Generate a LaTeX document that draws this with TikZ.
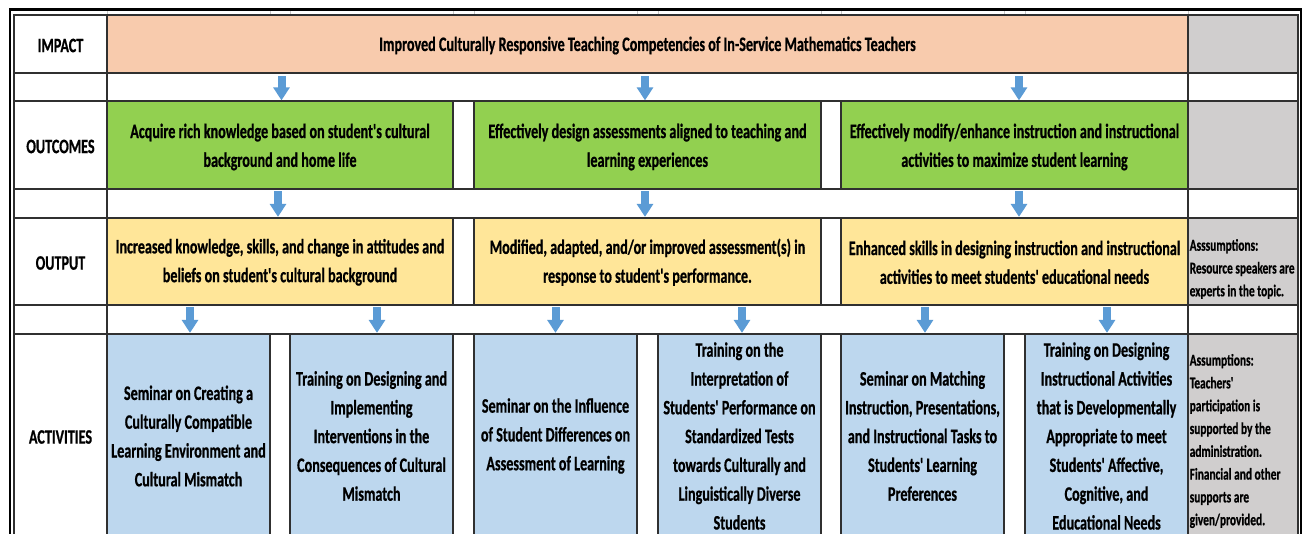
\documentclass[tikz,border=0pt]{standalone}
\usepackage{fontspec}
\newfontfamily\carl{Carlito}[FakeStretch=0.69, BoldFeatures={FakeBold=0.7}]
\usetikzlibrary{arrows.meta}

\definecolor{peach}{HTML}{F8CBAD}
\definecolor{leaf}{HTML}{92D050}
\definecolor{sand}{HTML}{FFE699}
\definecolor{sky}{HTML}{BDD7EE}
\definecolor{stone}{HTML}{D0CECE}
\definecolor{arrowblue}{HTML}{5B9BD5}
\definecolor{gridline}{HTML}{303030}
\definecolor{faintgrid}{HTML}{C8C8C8}

\tikzset{
  cell/.style={draw=gridline, line width=1.3pt, inner sep=0pt, align=center,
    font=\carl\bfseries\fontsize{20.5}{28.8}\selectfont},
  celltext/.style={inner sep=0pt, align=center,
    font=\carl\bfseries\fontsize{20.5}{28.8}\selectfont},
  spacer/.style={draw=gridline, line width=1.3pt, inner sep=0pt, fill=white},
  note/.style={inner sep=0pt, align=left, anchor=west,
    font=\carl\bfseries\fontsize{16.5}{22.8}\selectfont},
  blockarrow/.style={draw=arrowblue, line width=8pt,
    -{Triangle[width=16pt,length=13pt]}},
  frame/.style={draw=black, line width=2.4pt},
  lightgrid/.style={draw=faintgrid, line width=1pt},
}

\begin{document}
\begin{tikzpicture}[x=1pt,y=-1pt]
\useasboundingbox (0,0) rectangle (1306,534);
\clip (0,0) rectangle (1306,534);
\fill[white] (0,0) rectangle (1306,534);

% thin spreadsheet gridlines in the strip above the first row
\foreach \x in {107,270,290,453,474,637,658,821,841,1004,1025,1188}
  \draw[lightgrid] (\x,11) -- (\x,15);
\draw[gridline, line width=1.2pt] (14,600) |- (1298,14.5) -- (1298,600);

% spacer rows holding the arrows
\node[spacer, minimum width=93pt,   minimum height=28pt] (s1l) at (60.5,87) {};
\node[spacer, minimum width=1081pt, minimum height=28pt] (s1m) at (647.5,87) {};
\node[spacer, minimum width=110pt,  minimum height=28pt] (s1r) at (1243,87) {};
\node[spacer, minimum width=93pt,   minimum height=29pt] (s2l) at (60.5,203.5) {};
\node[spacer, minimum width=1081pt, minimum height=29pt] (s2m) at (647.5,203.5) {};
\node[spacer, minimum width=110pt,  minimum height=29pt] (s2r) at (1243,203.5) {};
\node[spacer, minimum width=93pt,   minimum height=29pt] (s3l) at (60.5,319.5) {};
\node[spacer, minimum width=1081pt, minimum height=29pt] (s3m) at (647.5,319.5) {};
\node[spacer, minimum width=110pt,  minimum height=29pt] (s3r) at (1243,319.5) {};

% row labels
\node[cell, minimum width=93pt, minimum height=58pt]  (lImpact)   at (60.5,44)    {};
\node[cell, minimum width=93pt, minimum height=88pt]  (lOutcomes) at (60.5,145)   {};
\node[cell, minimum width=93pt, minimum height=87pt]  (lOutput)   at (60.5,261.5) {};
\node[cell, minimum width=93pt, minimum height=204pt] (lActs)     at (60.5,436)   {};
\node[celltext] (lImpactT)   at ([yshift=-1.5pt]lImpact.center)   {IMPACT};
\node[celltext] (lOutcomesT) at ([yshift=-1.5pt]lOutcomes.center) {OUTCOMES};
\node[celltext] (lOutputT)   at ([yshift=-1.5pt]lOutput.center)   {OUTPUT};
\node[celltext] (lActsT)     at ([yshift=-1pt]lActs.center)       {ACTIVITIES};

% assumptions column
\node[cell, fill=stone, minimum width=110pt, minimum height=58pt]  (rImpact)   at (1243,44) {};
\node[cell, fill=stone, minimum width=110pt, minimum height=88pt]  (rOutcomes) at (1243,145) {};
\node[cell, fill=stone, minimum width=110pt, minimum height=87pt]  (rOutput)   at (1243,261.5) {};
\node[cell, fill=stone, minimum width=110pt, minimum height=204pt] (rActs)     at (1243,436) {};
\node[note] (nOutput) at (1189.5,269) {Asssumptions:\\Resource speakers are\\experts in the topic.};
\node[note] (nActs) at (1189.5,441) {Assumptions:\\Teachers'\\participation is\\supported by the\\administration.\\Financial and other\\supports are\\given/provided.};

% impact
\node[cell, fill=peach, minimum width=1081pt, minimum height=58pt] (impact) at (647.5,44) {};
\node[celltext] (impactT) at ([yshift=-1.5pt]impact.center)
  {Improved Culturally Responsive Teaching Competencies of In-Service Mathematics Teachers};

% outcomes (two-line texts sit a little below the box centre)
\node[cell, fill=leaf, minimum width=346pt, minimum height=88pt] (o1) at (280,145) {};
\node[cell, fill=leaf, minimum width=347pt, minimum height=88pt] (o2) at (647.5,145) {};
\node[cell, fill=leaf, minimum width=347pt, minimum height=88pt] (o3) at (1014.5,145) {};
\node[celltext] (o1t) at ([yshift=-2pt]o1.center)
  {Acquire rich knowledge based on student's cultural\\background and home life};
\node[celltext] (o2t) at ([yshift=-2pt]o2.center)
  {Effectively design assessments aligned to teaching and\\learning experiences};
\node[celltext] (o3t) at ([yshift=-2pt]o3.center)
  {Effectively modify/enhance instruction and instructional\\activities to maximize student learning};

% outputs
\node[cell, fill=sand, minimum width=346pt, minimum height=87pt] (p1) at (280,261.5) {};
\node[cell, fill=sand, minimum width=347pt, minimum height=87pt] (p2) at (647.5,261.5) {};
\node[cell, fill=sand, minimum width=347pt, minimum height=87pt] (p3) at (1014.5,261.5) {};
\node[celltext] (p1t) at ([yshift=-0.8pt]p1.center)
  {Increased knowledge, skills, and change in attitudes and\\beliefs on student's cultural background};
\node[celltext] (p2t) at ([yshift=-0.8pt]p2.center)
  {Modified, adapted, and/or improved assessment(s) in\\response to student's performance.};
\node[celltext] (p3t) at ([yshift=-0.8pt]p3.center)
  {Enhanced skills in designing instruction and instructional\\activities to meet students' educational needs};

% activities
\node[cell, fill=sky, minimum width=163pt, minimum height=204pt] (a1) at (188.5,436)
  {Seminar on Creating a\\Culturally Compatible\\Learning Environment and\\Cultural Mismatch};
\node[cell, fill=sky, minimum width=163pt, minimum height=204pt] (a2) at (371.5,436)
  {Training on Designing and\\Implementing\\Interventions in the\\Consequences of Cultural\\Mismatch};
\node[cell, fill=sky, minimum width=163pt, minimum height=204pt] (a3) at (555.5,436)
  {Seminar on the Influence\\of Student Differences on\\Assessment of Learning};
\node[cell, fill=sky, minimum width=163pt, minimum height=204pt] (a4) at (739.5,436)
  {Training on the\\Interpretation of\\Students' Performance on\\Standardized Tests\\towards Culturally and\\Linguistically Diverse\\Students};
\node[cell, fill=sky, minimum width=163pt, minimum height=204pt] (a5) at (922.5,436)
  {Seminar on Matching\\Instruction, Presentations,\\and Instructional Tasks to\\Students' Learning\\Preferences};
\node[cell, fill=sky, minimum width=163pt, minimum height=204pt] (a6) at (1106.5,436)
  {Training on Designing\\Instructional Activities\\that is Developmentally\\Appropriate to meet\\Students' Affective,\\Cognitive, and\\Educational Needs};

% arrows: impact to outcomes
\draw[blockarrow] ([xshift=1.5pt]o1.north)  ++(0,-24) -- ++(0,24);
\draw[blockarrow] ([xshift=-2.5pt]o2.north) ++(0,-24) -- ++(0,24);
\draw[blockarrow] ([xshift=4.5pt]o3.north)  ++(0,-24) -- ++(0,24);
% outcomes to outputs
\draw[blockarrow] ([xshift=-2pt]p1.north)   ++(0,-26) -- ++(0,25.5);
\draw[blockarrow] ([xshift=-2.5pt]p2.north) ++(0,-26) -- ++(0,25.5);
\draw[blockarrow] ([xshift=4.5pt]p3.north)  ++(0,-26) -- ++(0,25.5);
% outputs to activities
\draw[blockarrow] ([xshift=1.5pt]a1.north)  ++(0,-26) -- ++(0,25.5);
\draw[blockarrow] ([xshift=5.5pt]a2.north)  ++(0,-26) -- ++(0,25.5);
\draw[blockarrow] ([xshift=0pt]a3.north)    ++(0,-26) -- ++(0,25.5);
\draw[blockarrow] ([xshift=2.5pt]a4.north)  ++(0,-26) -- ++(0,25.5);
\draw[blockarrow] ([xshift=2.5pt]a5.north)  ++(0,-26) -- ++(0,25.5);
\draw[blockarrow] ([xshift=0.5pt]a6.north)  ++(0,-26) -- ++(0,25.5);

% outer frame
\draw[frame] (9.7,600) |- (1300.8,9.7) -- (1300.8,600);
\end{tikzpicture}
\end{document}
